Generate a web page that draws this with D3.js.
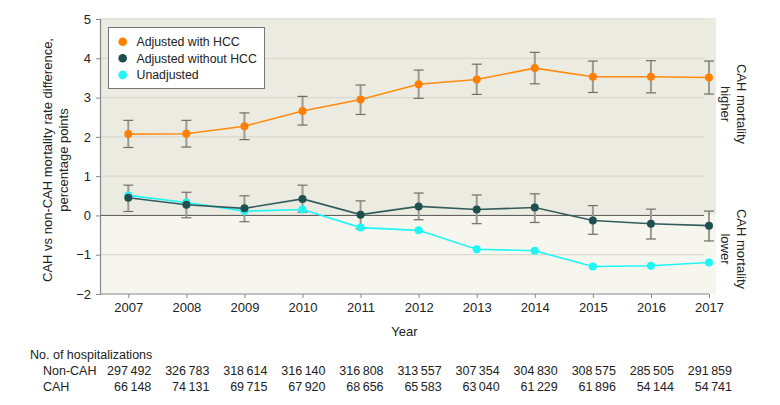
<!DOCTYPE html>
<html>
<head>
<meta charset="utf-8">
<script src="https://cdn.jsdelivr.net/npm/d3@7"></script>
<style>
  body { margin: 0; background: #fff; }
  svg text { font-family: "Liberation Sans", Arial, sans-serif; fill: #222; }
</style>
</head>
<body>
<svg id="chart" width="780" height="405"></svg>
<script>
const years = [2007, 2008, 2009, 2010, 2011, 2012, 2013, 2014, 2015, 2016, 2017]

const withHcc     = [2.07, 2.08, 2.27, 2.66, 2.95, 3.34, 3.46, 3.75, 3.53, 3.53, 3.51]
const withHccLow  = [1.73, 1.74, 1.93, 2.30, 2.57, 2.98, 3.08, 3.35, 3.13, 3.12, 3.09]
const withHccHigh = [2.42, 2.42, 2.61, 3.03, 3.32, 3.70, 3.85, 4.15, 3.93, 3.94, 3.93]

const withoutHcc     = [0.45, 0.27, 0.18, 0.42, 0.02, 0.23, 0.15, 0.20, -0.13, -0.21, -0.26]
const withoutHccLow  = [0.10, -0.06, -0.16, 0.08, -0.34, -0.11, -0.21, -0.18, -0.48, -0.60, -0.65]
const withoutHccHigh = [0.77, 0.59, 0.50, 0.77, 0.37, 0.57, 0.52, 0.55, 0.25, 0.16, 0.11]

const unadjusted = [0.51, 0.33, 0.11, 0.15, -0.31, -0.38, -0.86, -0.90, -1.30, -1.28, -1.20]

const nonCah = ["297\u2009492", "326\u2009783", "318\u2009614", "316\u2009140", "316\u2009808", "313\u2009557",
                "307\u2009354", "304\u2009830", "308\u2009575", "285\u2009505", "291\u2009859"]
const cah    = ["66\u2009148", "74\u2009131", "69\u2009715", "67\u2009920", "68\u2009656", "65\u2009583",
                "63\u2009040", "61\u2009229", "61\u2009896", "54\u2009144", "54\u2009741"]

const yTicks = [-2, -1, 0, 1, 2, 3, 4, 5]

const series = [
  { name: "Adjusted with HCC",    color: "#ff8000", line: "#ff8a10", values: withHcc,    low: withHccLow,    high: withHccHigh },
  { name: "Adjusted without HCC", color: "#1f4f4e", line: "#325d5c", values: withoutHcc, low: withoutHccLow, high: withoutHccHigh },
  { name: "Unadjusted",           color: "#1ef6f6", line: "#1ef6f6", values: unadjusted, low: null,          high: null }
]

const svg = d3.select("#chart")

const x = d3.scaleLinear().domain([2007, 2017]).range([128.3, 709])
const y = d3.scaleLinear().domain([-2, 5]).range([294, 19])

const plotLeft = 100, plotRight = 716, gridRight = 704
const fs = "13px"

// background bands
svg.append("rect")
  .attr("x", plotLeft).attr("y", y(5) - 1)
  .attr("width", plotRight - plotLeft).attr("height", y(0) - y(5) + 1)
  .attr("fill", "#ecebe1")
svg.append("rect")
  .attr("x", plotLeft).attr("y", y(0))
  .attr("width", plotRight - plotLeft).attr("height", y(-2) - y(0))
  .attr("fill", "#f6f6ef")

// grid
svg.append("g").selectAll("line")
  .data(yTicks.filter(d => d !== 0 && d !== -2))
  .enter().append("line")
  .attr("x1", plotLeft).attr("x2", gridRight)
  .attr("y1", d => y(d)).attr("y2", d => y(d))
  .attr("stroke", "#d9d9d2").attr("stroke-width", 1.2)

svg.append("line")
  .attr("x1", plotLeft).attr("x2", gridRight)
  .attr("y1", y(0)).attr("y2", y(0))
  .attr("stroke", "#555").attr("stroke-width", 1)

// y axis
const yAxis = svg.append("g")
  .attr("transform", "translate(" + plotLeft + ",0)")
  .call(d3.axisLeft(y).tickValues(yTicks).tickSize(4).tickPadding(5).tickFormat(d => d < 0 ? "\u2212" + (-d) : d))
yAxis.select(".domain").attr("stroke", "#888").attr("stroke-width", 1.2)
yAxis.selectAll(".tick line").attr("stroke", "#888")
yAxis.selectAll("text").style("font-size", fs).attr("fill", "#222")

// x axis
const xAxis = svg.append("g")
  .attr("transform", "translate(0," + y(-2) + ")")
  .call(d3.axisBottom(x).tickValues(years).tickSize(4).tickPadding(5).tickFormat(d3.format("d")))
xAxis.select(".domain").attr("d", "M" + plotLeft + ",0H" + x(2017)).attr("stroke", "#888").attr("stroke-width", 1.2)
xAxis.selectAll(".tick line").attr("stroke", "#888")
xAxis.selectAll("text").style("font-size", fs).attr("fill", "#222")

svg.append("text")
  .attr("x", (plotLeft + x(2017)) / 2).attr("y", 336)
  .attr("text-anchor", "middle").style("font-size", fs)
  .text("Year")

// y title
const yTitle = svg.append("text")
  .attr("transform", "translate(52,160) rotate(-90)")
  .attr("text-anchor", "middle").style("font-size", fs)
yTitle.append("tspan").attr("x", 0).attr("dy", 0).text("CAH vs non-CAH mortality rate difference,")
yTitle.append("tspan").attr("x", 0).attr("dy", 16).text("percentage points")

// right labels
const sideLabel = (cy, second) => {
  const t = svg.append("text")
    .attr("transform", "translate(737," + cy + ") rotate(90)")
    .attr("text-anchor", "middle").style("font-size", fs)
  t.append("tspan").attr("x", 0).attr("dy", 0).text("CAH mortality")
  t.append("tspan").attr("x", 0).attr("dy", 16).text(second)
}
sideLabel(104, "higher")
sideLabel(249, "lower")

// error bars
series.filter(s => s.low).forEach(s => {
  const g = svg.append("g")
  years.forEach((yr, i) => {
    g.append("line")
      .attr("x1", x(yr)).attr("x2", x(yr))
      .attr("y1", y(s.low[i])).attr("y2", y(s.high[i]))
      .attr("stroke", "#9a9a92").attr("stroke-width", 2)
    ;[s.low[i], s.high[i]].forEach(v => {
      g.append("line")
        .attr("x1", x(yr) - 5).attr("x2", x(yr) + 5)
        .attr("y1", y(v)).attr("y2", y(v))
        .attr("stroke", "#6f6f68").attr("stroke-width", 1.2)
    })
  })
})

// lines and points (unadjusted drawn first)
const line = d3.line().x((d, i) => x(years[i])).y(d => y(d))
;[series[2], series[1], series[0]].forEach(s => {
  svg.append("path")
    .attr("d", line(s.values))
    .attr("fill", "none").attr("stroke", s.line).attr("stroke-width", 1.6)
  svg.append("g").selectAll("circle")
    .data(s.values)
    .enter().append("circle")
    .attr("cx", (d, i) => x(years[i])).attr("cy", d => y(d))
    .attr("r", 4).attr("fill", s.color)
})

// legend
const legend = svg.append("g")
legend.append("rect")
  .attr("x", 108.5).attr("y", 27.5).attr("width", 156).attr("height", 61)
  .attr("fill", "#fff").attr("stroke", "#777").attr("stroke-width", 1)
series.forEach((s, i) => {
  legend.append("circle").attr("cx", 122.7).attr("cy", 41.7 + i * 16.6).attr("r", 4.3).attr("fill", s.color)
  legend.append("text").attr("x", 136.5).attr("y", 41.7 + i * 16.6).attr("dy", "0.35em")
    .style("font-size", "12.3px").text(s.name)
})

// hospitalizations table
const tfs = "12.5px"
svg.append("text").attr("x", 30).attr("y", 359).style("font-size", tfs).text("No. of hospitalizations")
svg.append("text").attr("x", 43).attr("y", 375).style("font-size", tfs).text("Non-CAH")
svg.append("text").attr("x", 43).attr("y", 391).style("font-size", tfs).text("CAH")
svg.append("g").selectAll("text")
  .data(nonCah).enter().append("text")
  .attr("x", (d, i) => x(years[i]) + 23).attr("y", 375)
  .attr("text-anchor", "end").style("font-size", tfs).text(d => d)
svg.append("g").selectAll("text")
  .data(cah).enter().append("text")
  .attr("x", (d, i) => x(years[i]) + 23).attr("y", 391)
  .attr("text-anchor", "end").style("font-size", tfs).text(d => d)
</script>
</body>
</html>
